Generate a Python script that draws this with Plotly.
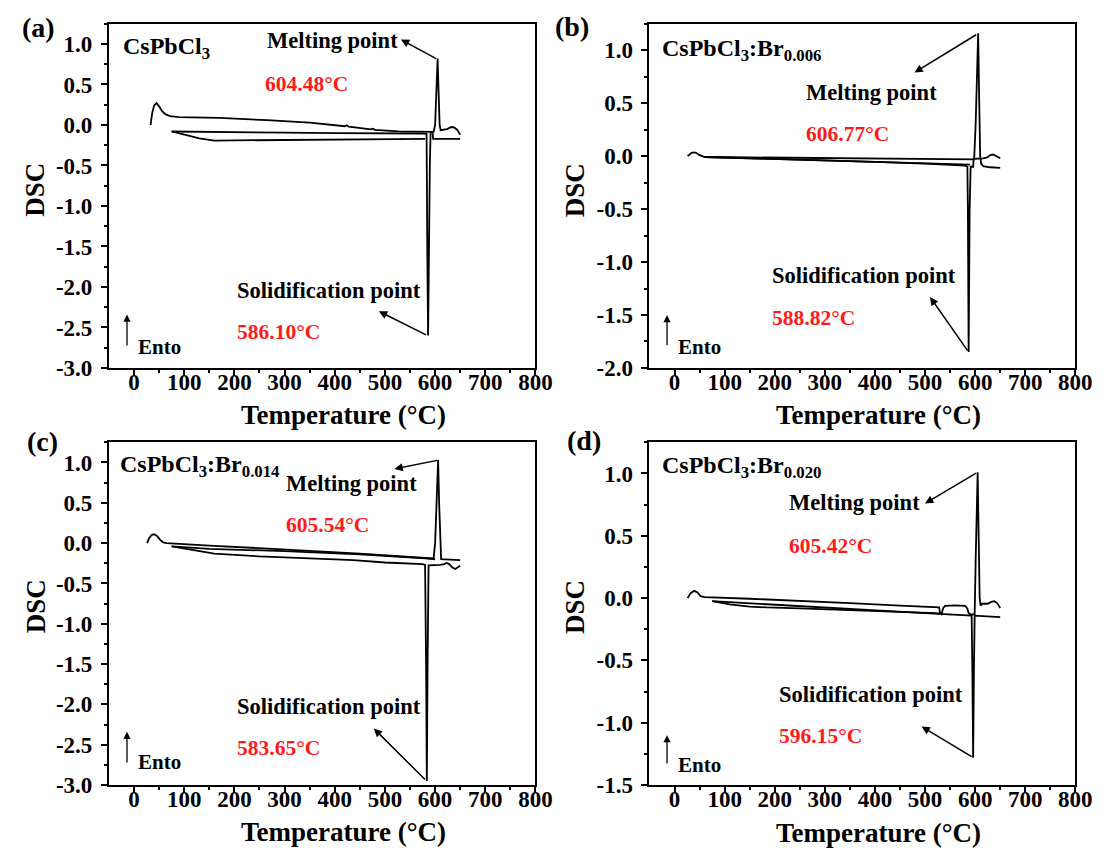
import plotly.graph_objects as go

# ---------------- data ----------------
# panel (a) CsPbCl3
heat_a_T = [33, 36, 40, 45, 50, 56, 63, 72, 90, 170, 265, 350, 420, 424, 428, 472, 476, 480, 527, 575, 597, 600, 602.5, 605, 607, 609, 611, 616, 624, 632, 638, 644, 650]
heat_a_D = [0.0, 0.14, 0.24, 0.27, 0.23, 0.17, 0.13, 0.11, 0.097, 0.087, 0.06, 0.03, -0.015, -0.003, -0.02, -0.055, -0.045, -0.06, -0.078, -0.088, -0.085, 0.0, 0.5, 0.82, 0.4, 0.0, -0.065, -0.06, -0.05, -0.025, -0.03, -0.06, -0.12]
cool_a_T = [650, 620, 596, 595, 591, 589.5, 588, 586, 584.5, 583.5, 583, 575, 500, 400, 300, 200, 75]
cool_a_D = [-0.172, -0.172, -0.17, -0.085, -0.085, -0.5, -2.0, -2.6, -1.6, -0.3, -0.11, -0.105, -0.105, -0.1, -0.095, -0.088, -0.08]
ret_a_T = [75, 100, 130, 160, 220, 330, 420, 500, 580]
ret_a_D = [-0.08, -0.12, -0.165, -0.192, -0.19, -0.18, -0.175, -0.172, -0.171]

# panel (b) CsPbCl3:Br0.006
heat_b_T = [26, 30, 34, 39, 44, 49, 54, 60, 150, 300, 450, 580, 598, 601, 604, 606, 608, 610, 612, 616, 630, 650]
heat_b_D = [0.0, 0.02, 0.032, 0.035, 0.03, 0.012, 0.0, -0.008, -0.012, -0.018, -0.024, -0.03, -0.03, 0.3, 0.95, 1.16, 0.55, 0.0, -0.07, -0.095, -0.105, -0.11]
cool_b_T = [650, 647, 642, 636, 630, 624, 616, 605, 597, 596, 591, 589, 587, 585.5, 584.5, 580, 500, 400, 300, 200, 100, 60]
cool_b_D = [-0.02, -0.012, 0.005, 0.015, 0.01, -0.012, -0.022, -0.025, -0.025, -0.1, -0.1, -0.5, -1.85, -0.5, -0.1, -0.09, -0.07, -0.055, -0.04, -0.028, -0.015, -0.008]
ret_b_T = [60, 150, 250, 350, 450, 550, 590]
ret_b_D = [-0.008, -0.02, -0.035, -0.05, -0.062, -0.075, -0.08]

# panel (c) CsPbCl3:Br0.014
heat_c_T = [26, 30, 35, 40, 46, 52, 58, 65, 150, 250, 350, 450, 550, 597, 600, 603, 606, 608, 610, 612, 630, 650]
heat_c_D = [0.0, 0.06, 0.1, 0.11, 0.09, 0.04, 0.01, 0.0, -0.03, -0.06, -0.095, -0.13, -0.17, -0.19, 0.0, 0.6, 1.03, 0.5, 0.0, -0.2, -0.205, -0.21]
cool_c_T = [650, 645, 640, 634, 628, 623, 618, 610, 595, 587, 585, 583.5, 582, 580, 575, 500, 437, 350, 250, 160, 120, 75]
cool_c_D = [-0.28, -0.3, -0.32, -0.3, -0.26, -0.245, -0.26, -0.27, -0.275, -0.275, -1.5, -2.95, -1.5, -0.27, -0.26, -0.24, -0.21, -0.19, -0.165, -0.13, -0.09, -0.04]
ret_c_T = [75, 150, 300, 450, 580, 600]
ret_c_D = [-0.04, -0.07, -0.1, -0.14, -0.19, -0.2]

# panel (d) CsPbCl3:Br0.020
heat_d_T = [26, 32, 39, 46, 52, 60, 150, 250, 350, 450, 528, 530, 533, 536, 540, 560, 580, 584, 587, 590, 599, 601, 603, 605, 607, 609, 611, 614, 625, 632, 638, 644, 650]
heat_d_D = [0.0, 0.04, 0.058, 0.045, 0.015, 0.008, -0.005, -0.02, -0.04, -0.06, -0.075, -0.12, -0.13, -0.08, -0.062, -0.058, -0.062, -0.08, -0.12, -0.13, -0.13, 0.3, 0.8, 1.01, 0.5, 0.0, -0.06, -0.045, -0.045, -0.03, -0.025, -0.04, -0.08]
cool_d_T = [650, 599, 597.5, 596, 594.5, 593, 500, 300, 75]
cool_d_D = [-0.152, -0.141, -0.6, -1.28, -0.6, -0.14, -0.12, -0.075, -0.025]
ret_d_T = [75, 110, 150, 184, 250, 350, 450, 520, 530]
ret_d_D = [-0.025, -0.05, -0.068, -0.075, -0.082, -0.095, -0.108, -0.12, -0.125]

x_ticks = [0, 100, 200, 300, 400, 500, 600, 700, 800]
x_tick_text = ["0", "100", "200", "300", "400", "500", "600", "700", "800"]
y_ticks_a = [-3.0, -2.5, -2.0, -1.5, -1.0, -0.5, 0.0, 0.5, 1.0]
y_text_a = ["-3.0", "-2.5", "-2.0", "-1.5", "-1.0", "-0.5", "0.0", "0.5", "1.0"]
y_ticks_b = [-2.0, -1.5, -1.0, -0.5, 0.0, 0.5, 1.0]
y_text_b = ["-2.0", "-1.5", "-1.0", "-0.5", "0.0", "0.5", "1.0"]
y_ticks_d = [-1.5, -1.0, -0.5, 0.0, 0.5, 1.0]
y_text_d = ["-1.5", "-1.0", "-0.5", "0.0", "0.5", "1.0"]

samples = ["CsPbCl<sub>3</sub>", "CsPbCl<sub>3</sub>:Br<sub>0.006</sub>",
           "CsPbCl<sub>3</sub>:Br<sub>0.014</sub>", "CsPbCl<sub>3</sub>:Br<sub>0.020</sub>"]
melt_labels = ["604.48°C", "606.77°C", "605.54°C", "605.42°C"]
solid_labels = ["586.10°C", "588.82°C", "583.65°C", "596.15°C"]
panel_tags = ["(a)", "(b)", "(c)", "(d)"]

# ---------------- figure ----------------
FONT = "Liberation Serif"
fig = go.Figure()

series = [
    [(heat_a_T, heat_a_D), (cool_a_T, cool_a_D), (ret_a_T, ret_a_D)],
    [(heat_b_T, heat_b_D), (cool_b_T, cool_b_D), (ret_b_T, ret_b_D)],
    [(heat_c_T, heat_c_D), (cool_c_T, cool_c_D), (ret_c_T, ret_c_D)],
    [(heat_d_T, heat_d_D), (cool_d_T, cool_d_D), (ret_d_T, ret_d_D)],
]
axnames = [("x", "y"), ("x2", "y2"), ("x3", "y3"), ("x4", "y4")]
for (xa, ya), segs in zip(axnames, series):
    for T, D in segs:
        fig.add_trace(go.Scatter(x=T, y=D, mode="lines", xaxis=xa, yaxis=ya,
                                 line=dict(color="black", width=1.8), showlegend=False,
                                 hoverinfo="skip"))

xdom_left = [102.5 / 1107, 535.7 / 1107]
xdom_right = [651.5 / 1107, 1084 / 1107]
ydom_top = [1 - 365.5 / 859, 1 - 16 / 859]
ydom_bot = [1 - 789 / 859, 1 - 441 / 859]

TICK_SIZE = 23


def xaxis(dom, anchor):
    return dict(domain=dom, anchor=anchor, range=[-50, 800], tickmode="array",
                tickvals=x_ticks, ticktext=x_tick_text, ticks="outside", ticklen=6,
                tickwidth=2, tickcolor="black", showline=True, linewidth=2,
                linecolor="black", mirror=True, showgrid=False, zeroline=False,
                ticklabelstandoff=-14,
                tickfont=dict(family=FONT, size=TICK_SIZE, color="black", weight="bold"),
                minor=dict(tickmode="array", tickvals=[50, 150, 250, 350, 450, 550, 650, 750],
                           ticks="outside", ticklen=3, tickwidth=1.5, tickcolor="black"))


def yaxis(dom, anchor, rng, vals, text):
    minor_vals = [v + 0.25 for v in vals]
    return dict(domain=dom, anchor=anchor, range=rng, tickmode="array",
                tickvals=vals, ticktext=text, ticks="outside", ticklen=6,
                tickwidth=2, tickcolor="black", showline=True, linewidth=2,
                linecolor="black", mirror=True, showgrid=False, zeroline=False,
                ticklabelstandoff=4,
                tickfont=dict(family=FONT, size=TICK_SIZE, color="black", weight="bold"),
                minor=dict(tickmode="array", tickvals=minor_vals, ticks="outside",
                           ticklen=3, tickwidth=1.5, tickcolor="black"))


fig.update_layout(
    width=1107, height=859, margin=dict(l=0, r=0, t=0, b=0),
    paper_bgcolor="white", plot_bgcolor="white",
    font=dict(family=FONT, color="black"),
    xaxis=xaxis(xdom_left, "y"),
    yaxis=yaxis(ydom_top, "x", [-3.0, 1.25], y_ticks_a, y_text_a),
    xaxis2=xaxis(xdom_right, "y2"),
    yaxis2=yaxis(ydom_top, "x2", [-2.0, 1.25], y_ticks_b, y_text_b),
    xaxis3=xaxis(xdom_left, "y3"),
    yaxis3=yaxis(ydom_bot, "x3", [-3.0, 1.25], y_ticks_a, y_text_a),
    xaxis4=xaxis(xdom_right, "y4"),
    yaxis4=yaxis(ydom_bot, "x4", [-1.5, 1.25], y_ticks_d, y_text_d),
)

ann = []
bold = lambda size, color="black": dict(family=FONT, size=size, color=color, weight="bold")


def text(xr, yr, x, y, s, size=21, color="black", xanchor="left"):
    ann.append(dict(xref=xr, yref=yr, x=x, y=y, text=s, showarrow=False,
                    xanchor=xanchor, yanchor="middle", font=bold(size, color)))


def arrow(xr, yr, hx, hy, tx, ty, width=1.5):
    ann.append(dict(xref=xr, yref=yr, axref=xr, ayref=yr, x=hx, y=hy, ax=tx, ay=ty,
                    text="", showarrow=True, arrowhead=2, arrowsize=1.1,
                    arrowwidth=width, arrowcolor="black"))


# per-panel annotation layout
layouts = [
    dict(sample=(-25, 0.95), melt=(261, 1.04), melt_val=(257, 0.51),
         marrow=(532, 1.055, 605, 0.81), solid=(202, -2.04), solid_val=(202, -2.56),
         sarrow=(488, -2.3, 585, -2.6), ento=(3, -2.74), earrow=(-14, -2.34, -14, -2.74)),
    dict(sample=(-30, 1.0), melt=(259, 0.6), melt_val=(259, 0.21),
         marrow=(479, 0.79, 605, 1.155), solid=(190, -1.13), solid_val=(190, -1.53),
         sarrow=(510, -1.33, 587, -1.85), ento=(3, -1.8), earrow=(-15, -1.5, -15, -1.8)),
    dict(sample=(-31, 0.96), melt=(299, 0.745), melt_val=(299, 0.23),
         marrow=(519, 0.92, 607, 1.03), solid=(202, -2.02), solid_val=(202, -2.54),
         sarrow=(478, -2.3, 583, -2.95), ento=(3, -2.72), earrow=(-14, -2.34, -14, -2.74)),
    dict(sample=(-30, 1.05), melt=(225, 0.77), melt_val=(225, 0.42),
         marrow=(500, 0.76, 605, 1.01), solid=(204, -0.77), solid_val=(204, -1.11),
         sarrow=(493, -1.03, 596, -1.28), ento=(3, -1.34), earrow=(-15, -1.1, -15, -1.34)),
]

for i, ((xa, ya), L) in enumerate(zip(axnames, layouts)):
    text(xa, ya, L["sample"][0], L["sample"][1], samples[i], size=24)
    text(xa, ya, L["melt"][0], L["melt"][1], "Melting point", size=22.5)
    text(xa, ya, L["melt_val"][0], L["melt_val"][1], melt_labels[i], size=21.5, color="#ff1a1a")
    text(xa, ya, L["solid"][0], L["solid"][1], "Solidification point", size=22.5)
    text(xa, ya, L["solid_val"][0], L["solid_val"][1], solid_labels[i], size=21.5, color="#ff1a1a")
    text(xa, ya, L["ento"][0], L["ento"][1], "Ento", size=21)
    arrow(xa, ya, *L["marrow"])
    arrow(xa, ya, *L["sarrow"])
    arrow(xa, ya, *L["earrow"], width=1.3)

# panel tags and axis titles (paper coordinates)
tag_pos = [(31, 20), (573, 19), (35, 440), (585, 439)]
tx_pos = [(341, 413), (884, 413), (341, 837), (884, 838)]
dsc_pos = [(28, 185), (576, 185), (28, 608), (576, 608)]
for i in range(4):
    ann.append(dict(xref="paper", yref="paper", x=tag_pos[i][0] / 1107, y=1 - tag_pos[i][1] / 859,
                    text=panel_tags[i], showarrow=False, xanchor="center", yanchor="middle",
                    font=bold(28)))
    ann.append(dict(xref="paper", yref="paper", x=tx_pos[i][0] / 1107, y=1 - tx_pos[i][1] / 859,
                    text="Temperature (°C)", showarrow=False, xanchor="center", yanchor="middle",
                    font=bold(27)))
    ann.append(dict(xref="paper", yref="paper", x=dsc_pos[i][0] / 1107, y=1 - dsc_pos[i][1] / 859,
                    text="DSC", showarrow=False, xanchor="center", yanchor="middle",
                    textangle=-90, font=bold(27)))

fig.update_layout(annotations=ann)
fig.write_html("out.html")
